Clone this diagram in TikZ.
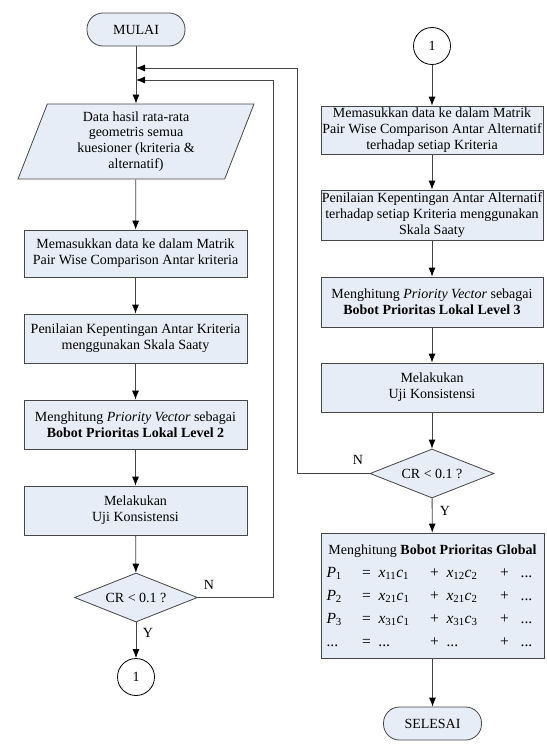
\documentclass[tikz,border=0pt]{standalone}
\usepackage{fontspec}
\setmainfont{Liberation Serif}
\usetikzlibrary{shapes.geometric,arrows.meta}
\definecolor{boxfill}{RGB}{231,237,247}
\definecolor{linegray}{RGB}{70,70,70}
\newcommand{\globrow}[7]{{\fontsize{15.5}{23}\selectfont\makebox[28pt][l]{#1}\makebox[24pt]{#2}\makebox[44pt][l]{#3}\makebox[24pt]{#4}\makebox[48pt][l]{#5}\makebox[20pt]{#6}\makebox[24pt]{#7}}}
\newcommand{\vi}[2]{\textit{#1}\textsubscript{#2}}
\begin{document}
\begin{tikzpicture}[x=1pt,y=-1pt,
  every node/.style={font=\fontsize{14}{15.8}\selectfont},
  procbox/.style={draw=linegray,line width=0.8pt,fill=boxfill,rectangle,align=center,inner sep=0.5pt,minimum width=223pt},
  termbox/.style={draw=linegray,line width=0.8pt,fill=boxfill,rectangle,rounded corners=16pt,minimum width=98pt,minimum height=33pt},
  iobox/.style={draw=linegray,line width=0.8pt,fill=boxfill,trapezium,trapezium left angle=64,trapezium right angle=116,trapezium stretches body,minimum width=236pt,minimum height=75pt,align=center,inner sep=0pt},
  decbox/.style={draw=linegray,line width=0.8pt,fill=boxfill,diamond,minimum width=123pt,minimum height=49pt,inner sep=0pt,aspect=2.5},
  conn/.style={draw=black,line width=0.8pt,fill=white,circle,minimum size=37pt,inner sep=0pt},
  flow/.style={draw=linegray,line width=0.8pt,-{Latex[length=9pt,width=7pt,color=black]}},
  lbl/.style={inner sep=0pt}
]
\useasboundingbox (0,0) rectangle (546,744);

% left column
\node[termbox] (mulai) at (136,29.5) {MULAI};
\node[iobox] (data) at (136,141.5) {Data hasil rata-rata\\geometris semua\\kuesioner (kriteria \&\\alternatif)};
\node[procbox,minimum height=47pt] (b1) at (135.5,253.5) {Memasukkan data ke dalam Matrik\\Pair Wise Comparison Antar kriteria};
\node[procbox,minimum height=49pt] (b2) at (135.5,338.5) {Penilaian Kepentingan Antar Kriteria\\menggunakan Skala Saaty};
\node[procbox,minimum height=49pt] (b3) at (135.5,424.5) {Menghitung \textit{Priority Vector} sebagai\\\textbf{Bobot Prioritas Lokal Level 2}};
\node[procbox,minimum height=49pt] (b4) at (135.5,510.5) {Melakukan\\Uji Konsistensi};
\node[decbox] (d1) at (136,597.5) {CR < 0.1 ?};
\node[conn] (c1) at (136,677) {1};

% right column
\node[conn] (c2) at (432,46) {1};
\node[procbox,minimum width=222pt,minimum height=48pt] (r1) at (432,130) {Memasukkan data ke dalam Matrik\\Pair Wise Comparison Antar Alternatif\\terhadap setiap Kriteria};
\node[procbox,minimum width=222pt,minimum height=50pt] (r2) at (432,215) {Penilaian Kepentingan Antar Alternatif\\terhadap setiap Kriteria menggunakan\\Skala Saaty};
\node[procbox,minimum width=222pt,minimum height=50pt] (r3) at (432,302) {Menghitung \textit{Priority Vector} sebagai\\\textbf{Bobot Prioritas Lokal Level 3}};
\node[procbox,minimum width=222pt,minimum height=49pt] (r4) at (432,387.5) {Melakukan\\Uji Konsistensi};
\node[decbox,minimum width=124pt] (d2) at (432,473.5) {CR < 0.1 ?};
\node[procbox,minimum width=223pt,minimum height=125pt,inner sep=0pt] (g) at (432.5,595.5) {\fontsize{14}{23}\selectfont
\begin{tabular}{@{}c@{}}
Menghitung \textbf{Bobot Prioritas Global}\\
\globrow{\vi{P}{1}}{=}{\vi{x}{11}\vi{c}{1}}{+}{\vi{x}{12}\vi{c}{2}}{+}{...}\\
\globrow{\vi{P}{2}}{=}{\vi{x}{21}\vi{c}{1}}{+}{\vi{x}{21}\vi{c}{2}}{+}{...}\\
\globrow{\vi{P}{3}}{=}{\vi{x}{31}\vi{c}{1}}{+}{\vi{x}{31}\vi{c}{3}}{+}{...}\\
\globrow{...}{=}{...}{+}{...}{+}{...}
\end{tabular}};
\node[termbox] (selesai) at (432.5,723.5) {SELESAI};

% junctions
\coordinate (j1) at (136,68);
\coordinate (j2) at (136,80);
\coordinate (k1) at (297,68);
\coordinate (k2) at (273,80);

% left flow
\draw[flow] (mulai) -- (data);
\draw[flow] (data) -- (b1);
\draw[flow] (b1) -- (b2);
\draw[flow] (b2) -- (b3);
\draw[flow] (b3) -- (b4);
\draw[flow] (b4) -- (d1);
\draw[flow] (d1) -- (c1);
\draw[flow] (d1.east) -| (k2) -- (j2);

% right flow
\draw[flow] (c2) -- (r1);
\draw[flow] (r1) -- (r2);
\draw[flow] (r2) -- (r3);
\draw[flow] (r3) -- (r4);
\draw[flow] (r4) -- (d2);
\draw[flow] (d2) -- (g);
\draw[flow] (g) -- (selesai);
\draw[flow] (d2.west) -| (k1) -- (j1);

% labels
\node[lbl] (n1) at (209,585) {N};
\node[lbl] (y1) at (148,633) {Y};
\node[lbl] (n2) at (358,460) {N};
\node[lbl] (y2) at (445,511) {Y};
\end{tikzpicture}
\end{document}
